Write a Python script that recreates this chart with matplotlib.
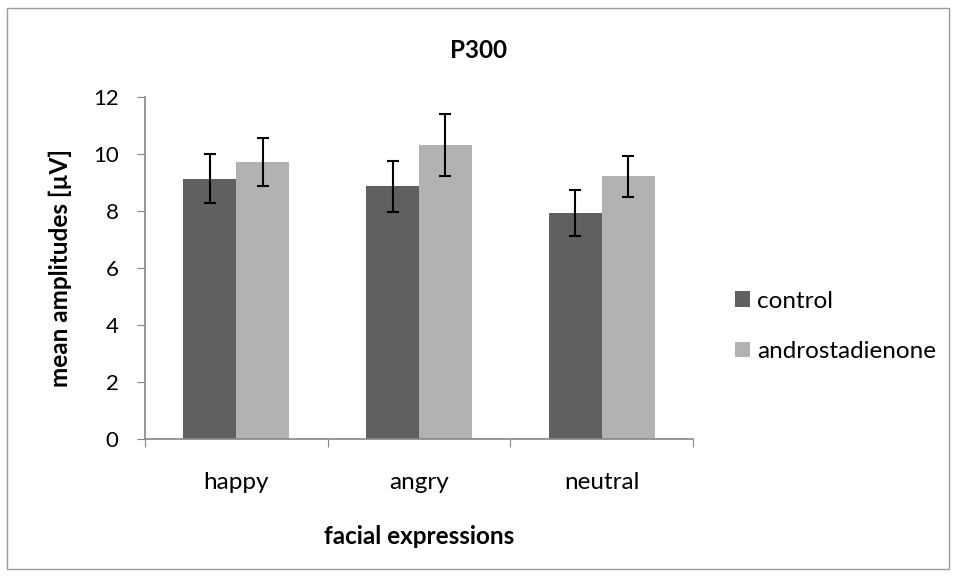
import matplotlib
matplotlib.use("Agg")
import matplotlib.pyplot as plt
from matplotlib.patches import Rectangle
import numpy as np

categories = ["happy", "angry", "neutral"]
series_names = ["control", "androstadienone"]
control = [9.13, 8.86, 7.94]
andro = [9.71, 10.31, 9.22]
control_err = [0.86, 0.89, 0.80]
andro_err = [0.85, 1.08, 0.72]
yticks = [0, 2, 4, 6, 8, 10, 12]

plt.rcParams['font.family'] = ['Lato', 'DejaVu Sans']

W, H = 957, 576
fig = plt.figure(figsize=(W / 100, H / 100), dpi=100)
fig.patch.set_facecolor('white')
fig.add_artist(Rectangle((7.5 / W, 7.5 / H), (949 - 7.5) / W, (568 - 7.5) / H,
                         transform=fig.transFigure, fill=False,
                         edgecolor='#9a9a9a', linewidth=1.0))

ax = fig.add_axes([145 / W, 1 - 439 / H, (693 - 145) / W, (439 - 97) / H])

x = np.arange(len(categories))
bw = 0.29
grey = '#868686'
fs = 17.5
ax.bar(x - bw / 2, control, bw, color='#606060', label=series_names[0],
       yerr=control_err, capsize=4.5,
       error_kw=dict(ecolor='black', elinewidth=1.5, capthick=1.5), zorder=2)
ax.bar(x + bw / 2, andro, bw, color='#b2b2b2', label=series_names[1],
       yerr=andro_err, capsize=4.5,
       error_kw=dict(ecolor='black', elinewidth=1.5, capthick=1.5), zorder=2)

ax.set_xlim(-0.5, len(categories) - 0.5)
ax.set_ylim(0, 12)
ax.set_yticks(yticks)
ax.set_yticklabels([str(v) for v in yticks], fontsize=16)
ax.set_xticks(np.arange(len(categories) + 1) - 0.5)
ax.set_xticklabels([])
ax.set_xticks(x, minor=True)
ax.set_xticklabels(categories, minor=True, fontsize=fs)
ax.tick_params(axis='x', which='major', length=6, color=grey, direction='out')
ax.tick_params(axis='x', which='minor', length=0, pad=24)
ax.tick_params(axis='y', length=6, color=grey, direction='out', pad=13)

for s in ['top', 'right']:
    ax.spines[s].set_visible(False)
for s in ['left', 'bottom']:
    ax.spines[s].set_color(grey)
    ax.spines[s].set_linewidth(1.2)

fig.text(60 / W, 1 - 268 / H, "mean amplitudes [µV]", fontsize=fs,
         fontweight='bold', ha='center', va='center', rotation=90)
fig.text((145 + 693) / 2 / W, 1 - 536 / H, "facial expressions", fontsize=fs,
         fontweight='bold', ha='center', va='center')
fig.text(479 / W, 1 - 50 / H, "P300", fontsize=fs,
         fontweight='bold', ha='center', va='center')

leg = fig.legend(loc='center left', bbox_to_anchor=(735 / W, 1 - 326.5 / H),
                 frameon=False, fontsize=fs, handlelength=0.62, handleheight=0.62,
                 handletextpad=0.3, labelspacing=1.2, borderaxespad=0,
                 borderpad=0)

fig.savefig("out.png", dpi=100)
